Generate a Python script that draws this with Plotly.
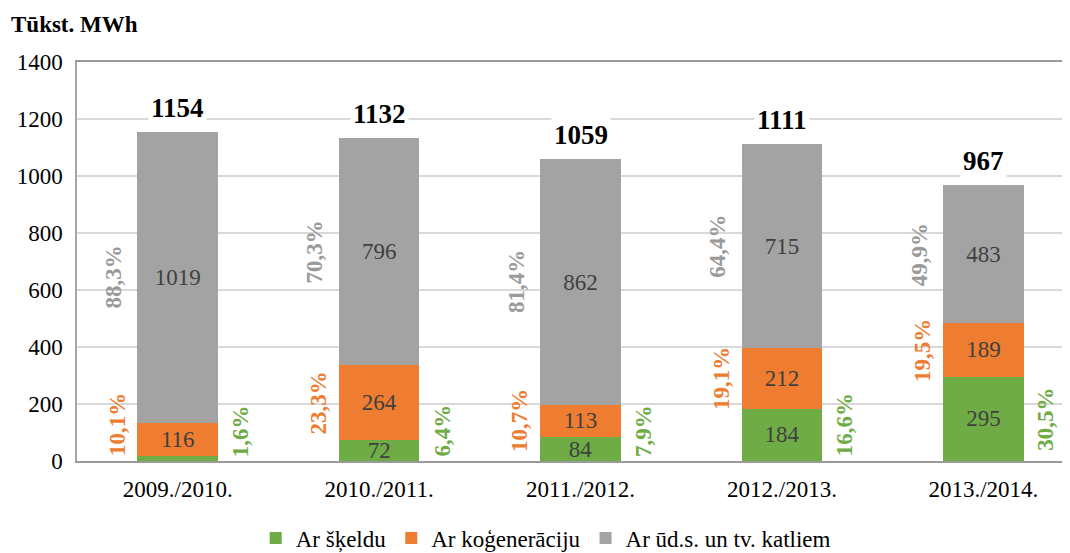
import plotly.graph_objects as go

seasons = ["2009./2010.", "2010./2011.", "2011./2012.", "2012./2013.", "2013./2014."]
skeldu = [19, 72, 84, 184, 295]
kogen = [116, 264, 113, 212, 189]
katliem = [1019, 796, 862, 715, 483]
totals = [1154, 1132, 1059, 1111, 967]
pct_skeldu = ["1,6%", "6,4%", "7,9%", "16,6%", "30,5%"]
pct_kogen = ["10,1%", "23,3%", "10,7%", "19,1%", "19,5%"]
pct_katliem = ["88,3%", "70,3%", "81,4%", "64,4%", "49,9%"]
show_skeldu_value = [False, True, True, True, True]

GREEN = "#6fac46"
ORANGE = "#ee7d31"
GRAY = "#a3a3a3"
VALUE_INK = "#404040"
FONT = "Liberation Serif"
PX_PER_UNIT = 399 / 1400  # plot height / y range, used to keep rotated labels above the axis

x = list(range(len(seasons)))

fig = go.Figure()
for vals, name, color, texts in [
    (skeldu, "Ar šķeldu", GREEN, [str(v) if s else "" for v, s in zip(skeldu, show_skeldu_value)]),
    (kogen, "Ar koģenerāciju", ORANGE, [str(v) for v in kogen]),
    (katliem, "Ar ūd.s. un tv. katliem", GRAY, [str(v) for v in katliem]),
]:
    fig.add_trace(go.Bar(
        x=x, y=vals, name=name, marker=dict(color=color, line=dict(width=0)),
        text=texts, textposition="inside", insidetextanchor="middle", textangle=0,
        constraintext="none", cliponaxis=False,
        textfont=dict(color=VALUE_INK, size=23, family=FONT),
    ))


def clamp_mid(mid, label):
    # half the rotated label length in data units, plus a small gap from the axis
    half = (len(label) * 12.5 / 2 + 5) / PX_PER_UNIT
    return max(mid, half)


for i in x:
    fig.add_annotation(
        x=i, y=totals[i], text=f"<b>{totals[i]}</b>", showarrow=False,
        yanchor="bottom", yshift=6, bgcolor="white", borderpad=2,
        font=dict(size=27, color="black", family=FONT),
    )
    g_mid = skeldu[i] / 2
    o_mid = skeldu[i] + kogen[i] / 2
    k_mid = skeldu[i] + kogen[i] + katliem[i] / 2
    fig.add_annotation(
        x=i + 0.31, y=clamp_mid(g_mid, pct_skeldu[i]), text=f"<b>{pct_skeldu[i]}</b>",
        showarrow=False, textangle=-90, font=dict(size=23, color=GREEN, family=FONT),
    )
    fig.add_annotation(
        x=i - 0.30, y=clamp_mid(o_mid, pct_kogen[i]), text=f"<b>{pct_kogen[i]}</b>",
        showarrow=False, textangle=-90, font=dict(size=23, color=ORANGE, family=FONT),
    )
    fig.add_annotation(
        x=i - 0.32, y=k_mid, text=f"<b>{pct_katliem[i]}</b>",
        showarrow=False, textangle=-90, font=dict(size=23, color="#9a9a9a", family=FONT),
    )

fig.add_annotation(
    xref="paper", yref="paper", x=-0.068, y=1.093, xanchor="left", yanchor="middle",
    text="<b>Tūkst. MWh</b>", showarrow=False, font=dict(size=23, color="black", family=FONT),
)

# the page adds an 8px body margin, so the figure is 8px smaller each way
fig.update_layout(
    width=1062, height=545,
    template="none",
    paper_bgcolor="white", plot_bgcolor="white",
    barmode="stack", bargap=0.6,
    font=dict(family=FONT, size=23, color="black"),
    margin=dict(l=69, r=0, t=54, b=92, autoexpand=False),
    uniformtext=dict(mode="show", minsize=23),
    showlegend=True,
    legend=dict(
        orientation="h", x=0.472, xanchor="center", y=-0.193, yanchor="middle",
        traceorder="normal", font=dict(size=23, family=FONT, color="black"),
        itemwidth=30, bgcolor="rgba(0,0,0,0)",
    ),
)
fig.update_xaxes(
    range=[-0.5, 4.43], tickmode="array", tickvals=x, ticktext=seasons,
    showgrid=False, zeroline=False, ticks="", automargin=False, ticklabelstandoff=6,
    showline=True, mirror=True, linecolor="#9a9a9a", linewidth=2,
)
fig.update_yaxes(
    range=[0, 1400], dtick=200, showgrid=True, gridcolor="#d9d9d9", gridwidth=1.5,
    zeroline=False, ticks="", ticklabelstandoff=8, automargin=False,
    showline=True, linecolor="#a6a6a6", linewidth=1.5,
)

fig.write_html("out.html")
